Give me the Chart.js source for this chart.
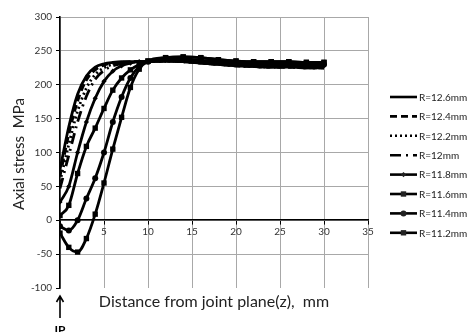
<!DOCTYPE html>
<html>
<head>
<meta charset="utf-8">
<script src="https://cdn.jsdelivr.net/npm/chart.js@4.4.0/dist/chart.umd.min.js"></script>
<style>
  html, body { margin: 0; padding: 0; background: #fff; }
  #wrap { width: 468px; height: 332px; }
</style>
</head>
<body>
<div id="wrap"><canvas id="stressChart"></canvas></div>
<script>
// distance from the joint plane, mm
const distance = [0, 1, 2, 3, 4, 5, 6, 7, 8, 9, 10, 12, 14, 16, 18, 20, 22, 24, 26, 28, 30];

// axial stress, MPa, one list per radius
const r126 = [75, 138, 186, 213, 226, 231, 233, 234, 234, 234, 234, 235, 234, 232, 230, 228, 227, 226, 226, 225, 225];
const r124 = [65, 127, 176, 207, 222, 229, 232, 233, 234, 234, 234, 235, 234, 232, 230, 228, 227, 226, 226, 225, 225];
const r122 = [57, 112, 161, 195, 215, 225, 230, 232, 233, 234, 234, 235, 234, 232, 230, 228, 227, 226, 226, 225, 225];
const r120 = [47, 96, 145, 183, 208, 221, 228, 231, 233, 234, 234, 235, 234, 232, 230, 228, 227, 226, 226, 225, 225];
const r118 = [27, 50, 100, 145, 180, 205, 220, 228, 232, 234, 234, 236, 236, 234, 232, 230, 229, 229, 228, 228, 228];
const r116 = [7, 22, 69, 109, 136, 165, 192, 210, 222, 230, 235, 240, 241, 240, 237, 235, 234, 234, 234, 233, 233];
const r114 = [-9, -15, 0, 32, 62, 100, 145, 182, 210, 227, 234, 238, 238, 236, 234, 232, 231, 231, 230, 230, 230];
const r112 = [-19, -40, -47, -27, 9, 55, 105, 152, 196, 223, 235, 240, 241, 240, 237, 235, 234, 234, 234, 233, 233];

const radiusLabels = ["R=12.6mm", "R=12.4mm", "R=12.2mm", "R=12mm", "R=11.8mm", "R=11.6mm", "R=11.4mm", "R=11.2mm"];
const xTicks = [0, 5, 10, 15, 20, 25, 30, 35];

const FONT = "Lato, 'Open Sans', sans-serif";

const series = [r126, r124, r122, r120, r118, r116, r114, r112];
const styles = [
  { dash: [], point: false },
  { dash: [7, 4], point: false },
  { dash: [2, 3], point: false },
  { dash: [11, 5, 2, 5], point: false },
  { dash: [], point: "rectRot", radius: 2.6 },
  { dash: [], point: "rect", radius: 3.8 },
  { dash: [], point: "circle", radius: 3 },
  { dash: [], point: "rect", radius: 3.8 }
];

const datasets = series.map((values, i) => ({
  label: radiusLabels[i],
  data: values.map((v, j) => ({ x: distance[j], y: v })),
  borderColor: "#000",
  backgroundColor: "#000",
  borderWidth: 2.8,
  borderDash: styles[i].dash,
  cubicInterpolationMode: "monotone",
  pointStyle: styles[i].point || "circle",
  pointRadius: styles[i].point ? styles[i].radius : 0,
  pointBorderWidth: 0,
  pointBackgroundColor: "#000"
}));

// titles, the IP marker and the legend are painted by hand
const annotations = {
  id: "annotations",
  afterDraw(chart) {
    const ctx = chart.ctx;
    const area = chart.chartArea;
    ctx.save();
    ctx.fillStyle = "#222";
    ctx.textBaseline = "middle";

    ctx.font = "16px " + FONT;
    ctx.textAlign = "center";
    ctx.fillText("Distance from joint plane(z),  mm", 214, 302);

    ctx.save();
    ctx.translate(19, 154);
    ctx.rotate(-Math.PI / 2);
    ctx.font = "15px " + FONT;
    ctx.fillText("Axial stress  MPa", 0, 0);
    ctx.restore();

    // IP arrow under the origin
    const ax = area.left;
    ctx.strokeStyle = "#000";
    ctx.lineWidth = 1.6;
    ctx.beginPath();
    ctx.moveTo(ax, 318);
    ctx.lineTo(ax, 297);
    ctx.moveTo(ax - 3.5, 302);
    ctx.lineTo(ax, 296);
    ctx.lineTo(ax + 3.5, 302);
    ctx.stroke();
    ctx.font = "bold 12px " + FONT;
    ctx.fillStyle = "#000";
    ctx.fillText("IP", ax, 330);

    // legend
    ctx.font = "10px " + FONT;
    ctx.textAlign = "left";
    chart.data.datasets.forEach((ds, i) => {
      const y = 97 + i * 19.4;
      ctx.strokeStyle = "#000";
      ctx.lineWidth = 2.6;
      ctx.setLineDash(ds.borderDash);
      ctx.beginPath();
      ctx.moveTo(390, y);
      ctx.lineTo(417, y);
      ctx.stroke();
      ctx.setLineDash([]);
      if (ds.pointRadius > 0) {
        Chart.helpers.drawPoint(ctx, {
          pointStyle: ds.pointStyle,
          radius: ds.pointRadius,
          rotation: 0,
          borderWidth: 0
        }, 403.5, y);
      }
      ctx.fillStyle = "#222";
      ctx.fillText(ds.label, 419, y + 0.5);
    });
    ctx.restore();
  }
};

new Chart(document.getElementById("stressChart"), {
  type: "line",
  data: { datasets },
  options: {
    responsive: true,
    maintainAspectRatio: false,
    animation: false,
    layout: { padding: { top: 17, right: 100, bottom: 44, left: 0 } },
    plugins: {
      legend: { display: false },
      tooltip: { enabled: false }
    },
    scales: {
      x: {
        type: "linear",
        position: { y: 0 },
        min: 0,
        max: 35,
        afterBuildTicks: (scale) => {
          scale.ticks = xTicks.map((v) => ({ value: v }));
        },
        grid: {
          color: "#a8a8a8",
          lineWidth: 1,
          tickColor: "#000",
          tickLength: 4
        },
        border: { color: "#000", width: 1.6 },
        ticks: {
          color: "#333",
          font: { family: FONT, size: 10 },
          padding: 2,
          maxRotation: 0,
          callback: (v) => (v === 0 ? "" : v)
        }
      },
      y: {
        min: -100,
        max: 300,
        afterFit: (scale) => {
          scale.width = 60;
        },
        grid: {
          color: (c) => (c.tick && c.tick.value === -100 ? "rgba(0,0,0,0)" : "#a8a8a8"),
          lineWidth: 1,
          tickColor: "#000",
          tickLength: 4
        },
        border: { color: "#000", width: 1.6 },
        ticks: {
          stepSize: 50,
          color: "#333",
          font: { family: FONT, size: 10 },
          padding: 4
        }
      }
    }
  },
  plugins: [annotations]
});
</script>
</body>
</html>
